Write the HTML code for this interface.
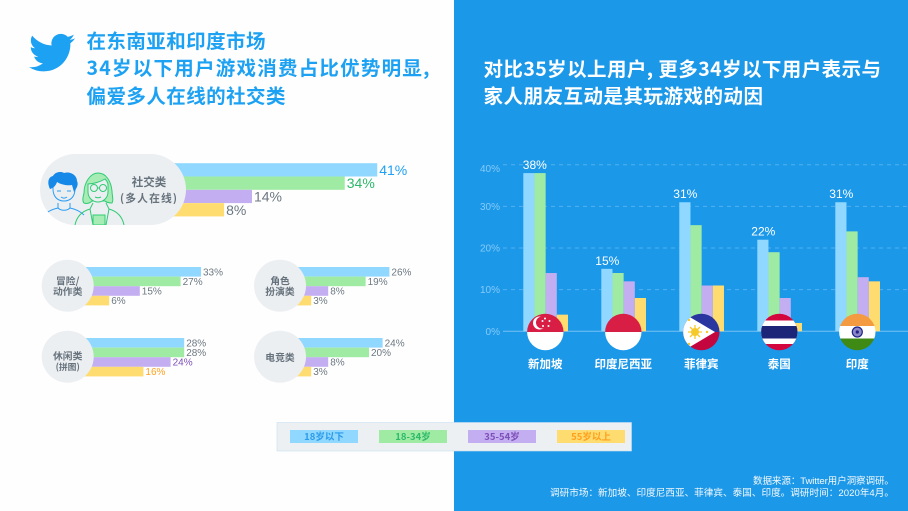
<!DOCTYPE html>
<html lang="zh">
<head>
<meta charset="utf-8">
<title>Twitter 游戏用户调研</title>
<style>
html,body{margin:0;padding:0;background:#fff;width:908px;height:511px;overflow:hidden}
svg{display:block}
text{font-family:"Liberation Sans","Noto Sans CJK SC",sans-serif}
.t{font-family:"Noto Sans CJK SC","Liberation Sans",sans-serif;font-weight:700;font-size:19.5px}
.c{font-family:"Noto Sans CJK SC","Liberation Sans",sans-serif;font-weight:700;fill:#66727c;text-anchor:middle}
.lg{font-family:"Noto Sans CJK SC","Liberation Sans",sans-serif;font-weight:700;font-size:9.5px;text-anchor:middle}
.f{font-size:9.6px;fill:#fff;text-anchor:end;opacity:.95}
</style>
</head>
<body>
<svg xmlns="http://www.w3.org/2000/svg" width="908" height="511" viewBox="0 0 908 511">
  <defs>
    <clipPath id="pill-clip"><rect x="40" y="154" width="146" height="71" rx="35.5"/></clipPath>
    <clipPath id="c0"><circle cx="545.3" cy="332" r="18.2"/></clipPath>
    <clipPath id="c1"><circle cx="623.3" cy="332" r="18.2"/></clipPath>
    <clipPath id="c2"><circle cx="701.3" cy="332" r="18.2"/></clipPath>
    <clipPath id="c3"><circle cx="779.3" cy="332" r="18.2"/></clipPath>
    <clipPath id="c4"><circle cx="857.3" cy="332" r="18.2"/></clipPath>
  </defs>

  <rect x="0" y="0" width="454" height="511" fill="#fefefe"/>
  <rect x="454" y="0" width="454" height="511" fill="#1c98e9"/>

  <path transform="translate(29 29.6) scale(1.92)" fill="#1da1f2" d="M23.953 4.57a10 10 0 01-2.825.775 4.958 4.958 0 002.163-2.723c-.951.555-2.005.959-3.127 1.184a4.92 4.92 0 00-8.384 4.482C7.69 8.095 4.067 6.13 1.64 3.162a4.822 4.822 0 00-.666 2.475c0 1.71.87 3.213 2.188 4.096a4.904 4.904 0 01-2.228-.616v.06a4.923 4.923 0 003.946 4.827 4.996 4.996 0 01-2.212.085 4.936 4.936 0 004.604 3.417 9.867 9.867 0 01-6.102 2.105c-.39 0-.779-.023-1.17-.067a13.995 13.995 0 007.557 2.209c9.053 0 13.998-7.496 13.998-13.985 0-.21 0-.42-.015-.63A9.935 9.935 0 0024 4.59z"/>

  <g fill="#1da1f2">
    <text x="86.5" y="48" class="t" textLength="179" lengthAdjust="spacing">在东南亚和印度市场</text>
    <text x="86.5" y="75" class="t" textLength="343" lengthAdjust="spacing">34岁以下用户游戏消费占比优势明显,</text>
    <text x="86.5" y="103" class="t" textLength="199" lengthAdjust="spacing">偏爱多人在线的社交类</text>
  </g>

  <g id="left-bars"></g>

  <g>
    <rect x="40" y="154" width="146" height="71" rx="35.5" fill="#eceff2"/>
    <g clip-path="url(#pill-clip)">
      <g fill="none" stroke="#2a9df4" stroke-width="1">
        <path d="M53 183v6c0 7 4 12 11 12s11-5 11-12v-6"/>
        <path d="M44 215c4-4 9-6 14-7l0-5M84 215c-4-4-9-6-14-7l0-5M58 208c3 3 9 3 12 0"/>
        <path d="M57 191h4M67 191h4M61 197c2 1.500 4 1.500 6 0"/>
        <path fill="#1688e8" stroke="none" d="M50 189c-3-6-2-12 3-13 2-4 8-5 11-3 6-2 13 2 13 8 2 4-1 8-3 11l-2-7c-6 1-12-1-15-3-1 3-3 6-7 7z"/>
      </g>
      <g fill="none" stroke="#2fcb74" stroke-width="1">
        <path fill="#a6ecb4" d="M84 203c-2-2-1-6 0-10 0-10 6-20 14-20s13 8 14 18c0 5 2 9 0 12-3 0-6-1-7-2l-13 0c-2 2-5 3-8 2z"/>
        <path fill="#eceff2" d="M88 184c5 0 12-2 17-5 2 2 3 4 3 6v7c0 6-5 10-10 10s-10-4-10-10z"/>
        <circle cx="94" cy="188" r="3.500"/><circle cx="103" cy="188" r="3.500"/>
        <path d="M97.500 188h2M95 197c2 1 4 1 6 0"/>
        <path d="M75 225c2-10 8-14 15-16l3-6M124 225c-2-10-8-14-15-16l-3-6"/>
        <path fill="#a6ecb4" d="M93 225v-10h12v10z"/>
        <path d="M90 209l3 16M109 209l-3 16"/>
      </g>
    </g>
    <text x="149" y="186" class="c" font-size="11.5">社交类</text>
    <text x="148.500" y="202" class="c" font-size="10.8" textLength="57" lengthAdjust="spacing">(多人在线)</text>
  </g>

  <g>
    <circle cx="67.700" cy="285.700" r="26" fill="#eceff2"/>
    <text x="67.700" y="284.500" class="c" font-size="9.800">冒险/</text>
    <text x="67.700" y="295" class="c" font-size="9.800">动作类</text>
  </g>
  <g>
    <circle cx="280" cy="285.700" r="26" fill="#eceff2"/>
    <text x="280" y="284.500" class="c" font-size="9.800">角色</text>
    <text x="280" y="295" class="c" font-size="9.800">扮演类</text>
  </g>
  <g>
    <circle cx="67.700" cy="356.700" r="26" fill="#eceff2"/>
    <text x="67.700" y="359.500" class="c" font-size="9.800">休闲类</text>
    <text x="67.700" y="370" class="c" font-size="8.800">(拼图)</text>
  </g>
  <g>
    <circle cx="280" cy="356.700" r="26" fill="#eceff2"/>
    <text x="280" y="361" class="c" font-size="9.800">电竞类</text>
  </g>

  <g>
    <text x="483.500" y="76" class="t" fill="#fff" textLength="397.500" lengthAdjust="spacing">对比35岁以上用户, 更多34岁以下用户表示与</text>
    <text x="483.500" y="103" class="t" fill="#fff" textLength="279.500" lengthAdjust="spacing">家人朋友互动是其玩游戏的动因</text>
  </g>

  <g id="chart"></g>

  <g clip-path="url(#c0)">
    <rect x="527" y="313" width="37" height="19" fill="#d81e45"/><rect x="527" y="332" width="37" height="19" fill="#fff"/>
    <circle cx="539.500" cy="323" r="6.500" fill="#fff"/><circle cx="542" cy="322.500" r="6" fill="#d81e45"/>
    <g fill="#fff"><circle cx="545" cy="318.500" r="1"/><circle cx="549.500" cy="321" r="1"/><circle cx="548.500" cy="326" r="1"/><circle cx="543" cy="326" r="1"/><circle cx="542.500" cy="321" r="1"/></g>
  </g>
  <g clip-path="url(#c1)">
    <rect x="605" y="313" width="37" height="19" fill="#d81e45"/><rect x="605" y="332" width="37" height="19" fill="#fff"/>
  </g>
  <g clip-path="url(#c2)">
    <rect x="683" y="313" width="37" height="19" fill="#2a35a0"/><rect x="683" y="332" width="37" height="19" fill="#c4063f"/>
    <path d="M683 313 L715 332 L683 351z" fill="#fff"/>
    <circle cx="695" cy="332" r="4" fill="#f6c92b"/>
    <g stroke="#f6c92b" stroke-width="1.300"><path d="M695 325v14M688 332h14M690 327l10 10M700 327l-10 10"/></g>
    <circle cx="689" cy="320" r="1.200" fill="#f6c92b"/><circle cx="689" cy="344" r="1.200" fill="#f6c92b"/><circle cx="707" cy="332" r="1.200" fill="#f6c92b"/>
  </g>
  <g clip-path="url(#c3)">
    <rect x="761" y="313" width="37" height="38" fill="#d3063d"/>
    <rect x="761" y="320.500" width="37" height="23.500" fill="#fff"/>
    <rect x="761" y="326" width="37" height="12.500" fill="#1c2578"/>
  </g>
  <g clip-path="url(#c4)">
    <rect x="839" y="313" width="37" height="13" fill="#f49a41"/>
    <rect x="839" y="326" width="37" height="12.500" fill="#fff"/>
    <rect x="839" y="338.500" width="37" height="13" fill="#3f8a14"/>
    <circle cx="857.300" cy="332" r="5" fill="#8c88c6" stroke="#1f2388" stroke-width="1.200"/>
    <circle cx="857.300" cy="332" r="1.600" fill="#1f2388"/>
  </g>

  <g>
    <rect x="277" y="422.500" width="354.500" height="28.500" fill="#ecf0f3" stroke="#c8dff2" stroke-width=".6"/>
    <g>
      <rect x="290" y="430" width="68" height="13" fill="#90d8ff"/>
      <text x="324" y="440" class="lg" fill="#2b9bea">18岁以下</text>
    </g>
    <g>
      <rect x="379" y="430" width="68" height="13" fill="#a0eba4"/>
      <text x="413" y="440" class="lg" fill="#2cb96a">18-34岁</text>
    </g>
    <g>
      <rect x="468" y="430" width="68" height="13" fill="#c2aef0"/>
      <text x="502" y="440" class="lg" fill="#7d4fb8">35-54岁</text>
    </g>
    <g>
      <rect x="557" y="430" width="68" height="13" fill="#ffdc6f"/>
      <text x="591" y="440" class="lg" fill="#ff9f1c">55岁以上</text>
    </g>
  </g>

  <text x="894" y="484" class="f" textLength="141" lengthAdjust="spacing">数据来源：Twitter用户洞察调研。</text>
  <text x="894" y="496" class="f" textLength="344" lengthAdjust="spacing">调研市场：新加坡、印度尼西亚、菲律宾、泰国、印度。调研时间：2020年4月。</text>
</svg>

<script>
// ---- genre data (percent, by age: under 18, 18-34, 35-54, 55+) ----
const socialValues = [41, 34, 14, 8];
const adventureValues = [33, 27, 15, 6];
const roleplayValues = [26, 19, 8, 3];
const casualValues = [28, 28, 24, 16];
const esportsValues = [24, 20, 8, 3];

// ---- country chart data ----
const countries = ['新加坡', '印度尼西亚', '菲律宾', '泰国', '印度'];
const under18Values = [38, 15, 31, 22, 31];
const age18to34Values = [38, 14, 25.5, 19, 24];
const age35to54Values = [14, 12, 11, 8, 13];
const age55plusValues = [4, 8, 11, 2, 12];
const yTicks = [0, 10, 20, 30, 40];

const NS = 'http://www.w3.org/2000/svg';
const barColors = ['#90d8ff', '#a0eba4', '#c2aef0', '#ffdc6f'];
const highlightColors = ['#1da1f2', '#2cb96a', '#7d4fb8', '#ff9f1c'];
const ageKeys = ['under-18', '18-34', '35-54', '55-plus'];
const leftBars = document.getElementById('left-bars');
const chart = document.getElementById('chart');

function make(tag, attrs, parent, text) {
  const el = document.createElementNS(NS, tag);
  for (const k in attrs) el.setAttribute(k, attrs[k]);
  if (text !== undefined) el.textContent = text;
  parent.appendChild(el);
  return el;
}

const allGenres = [socialValues, adventureValues, roleplayValues, casualValues, esportsValues];
function seriesMax(i) {
  return Math.max.apply(null, allGenres.map(function (g) { return g[i]; }));
}

function drawGenre(name, values, x0, yTop, scale, rowH, fontSize) {
  values.forEach(function (v, i) {
    const y = yTop + i * rowH;
    const bar = make('rect', { x: x0 - 14, y: y, width: v * scale + 14, height: rowH, fill: barColors[i] }, leftBars);
    
    
    const label = make('text', {
      x: x0 + v * scale + 2,
      y: y + rowH / 2 + fontSize * 0.36,
      'font-size': fontSize,
      fill: v === seriesMax(i) ? highlightColors[i] : '#6b7780',
      stroke: '#fff', 'stroke-width': 1.5, 'paint-order': 'stroke'
    }, leftBars, v + '%');
    
    
  });
}

drawGenre('social', socialValues, 187, 163.2, 4.64, 13.3, 14);
drawGenre('adventure', adventureValues, 88.8, 267, 3.4, 9.6, 10);
drawGenre('roleplay', roleplayValues, 301, 267, 3.4, 9.6, 10);
drawGenre('casual', casualValues, 89, 338, 3.4, 9.6, 10);
drawGenre('esports', esportsValues, 301, 338, 3.4, 9.6, 10);

// ---- axis functions ----
function yScale(v) { return 331.3 - v * 4.163; }
function groupX(i) { return 523.3 + i * 78; }

yTicks.forEach(function (t) {
  const line = make('line', {
    x1: 503, x2: 908, y1: yScale(t), y2: yScale(t),
    stroke: '#fff', 'stroke-opacity': t === 0 ? 0.4 : 0.24,
    'stroke-dasharray': t === 0 ? 'none' : '4 4'
  }, chart);
  
  
  const tick = make('text', {
    x: 500, y: yScale(t) + (t === 40 ? 7 : 3.5), 'text-anchor': 'end', 'font-size': 10, fill: '#86cbf8'
  }, chart, t + '%');
  
  
});

const chartSeries = [under18Values, age18to34Values, age35to54Values, age55plusValues];
countries.forEach(function (name, c) {
  chartSeries.forEach(function (series, s) {
    const v = series[c];
    const bar = make('rect', {
      x: groupX(c) + s * 11.17, y: yScale(v), width: 11.17, height: yScale(0) - yScale(v),
      fill: barColors[s]
    }, chart);
    
    
  });
  const top = under18Values[c];
  const tie = under18Values[c] === age18to34Values[c];
  const value = make('text', {
    x: groupX(c) + (tie ? 11.5 : 6), y: yScale(top) - 4,
    'text-anchor': 'middle', 'font-size': 12, fill: '#fff'
  }, chart, top + '%');
  
  
  const cat = make('text', {
    x: groupX(c) + 22, y: 368, 'text-anchor': 'middle', 'font-size': 11.5, 'font-weight': 700, fill: '#fff'
  }, chart, name);
  
  
});
</script>
</body>
</html>
